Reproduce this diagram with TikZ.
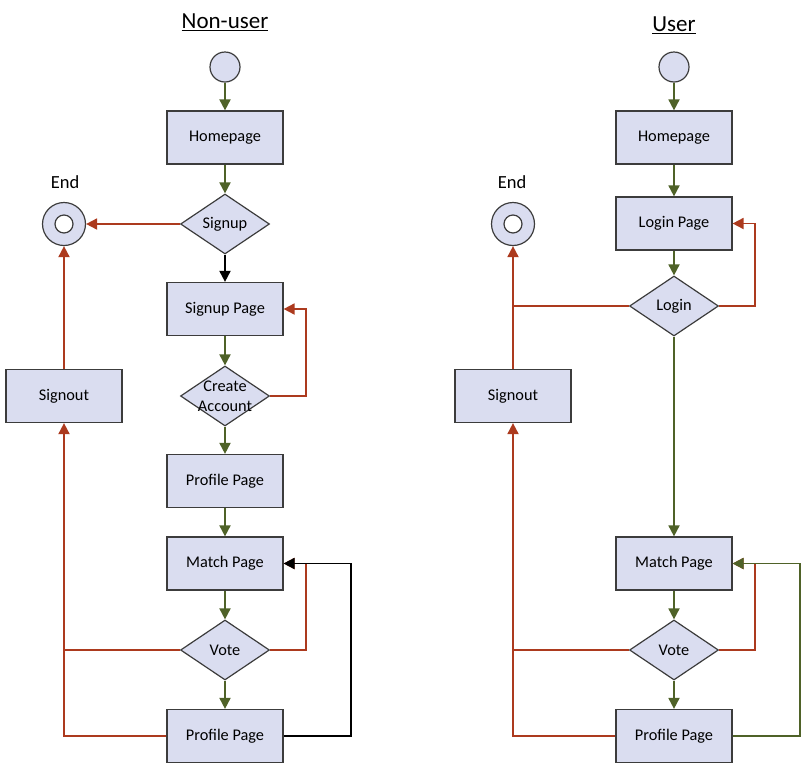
\documentclass[tikz,border=0pt]{standalone}
\usepackage{fontspec}
\setmainfont{Carlito}
\usetikzlibrary{shapes.geometric,arrows.meta}
\definecolor{boxfill}{RGB}{218,221,240}
\definecolor{boxline}{RGB}{60,60,60}
\definecolor{gr}{RGB}{79,98,40}
\definecolor{rd}{RGB}{172,58,30}
\tikzset{
  stepbox/.style={draw=boxline,fill=boxfill,line width=1.2pt,minimum width=116pt,minimum height=53pt,inner sep=0pt,font=\fontsize{16.3}{19}\selectfont},
  decide/.style={draw=boxline,fill=boxfill,line width=1.2pt,diamond,minimum width=89pt,minimum height=60pt,inner sep=0pt,font=\fontsize{16.3}{19}\selectfont,align=center},
  startc/.style={circle,draw=boxline,fill=boxfill,line width=1.2pt,minimum size=30pt,inner sep=0pt},
  endc/.style={circle,draw=boxline,fill=boxfill,line width=1.2pt,minimum size=43pt,inner sep=0pt},
  innerc/.style={circle,draw=boxline,fill=white,line width=1.2pt,minimum size=18pt,inner sep=0pt},
  lbl/.style={font=\fontsize{16.3}{19}\selectfont,inner sep=0pt},
  endlbl/.style={font=\fontsize{18.5}{21}\selectfont,inner sep=0pt},
  ttl/.style={font=\fontsize{23}{26}\selectfont,inner sep=0pt},
  ga/.style={draw=gr,line width=1.8pt,-{Triangle[length=11pt,width=11pt]}},
  ra/.style={draw=rd,line width=1.8pt,-{Triangle[length=11pt,width=11pt]}},
  ba/.style={draw=black,line width=1.8pt,-{Triangle[length=11pt,width=11pt]}},
  rl/.style={draw=rd,line width=1.8pt},
}
\begin{document}
\begin{tikzpicture}[x=1pt,y=-1pt]
\useasboundingbox (0,0) rectangle (801,772);
% ---------- Non-user ----------
\node[ttl] (t1) at (225,22) {\underline{Non-user}};
\node[startc] (s1) at (225,67) {};
\node[stepbox] (h1) at (225,137.5) {Homepage};
\node[decide] (su) at (225,224) {Signup};
\node[endc] (e1) at (64,224) {};
\node[innerc] (e1i) at (64,224) {};
\node[endlbl] (e1t) at (65,182) {End};
\node[stepbox] (sp) at (225,309) {Signup Page};
\node[decide,label={[lbl,align=center]center:Create\\[1pt]Account}] (ca) at (225,396) {};
\node[stepbox] (pp1) at (225,481) {Profile Page};
\node[stepbox] (mp1) at (225,563.5) {Match Page};
\node[decide] (v1) at (225,650) {Vote};
\node[stepbox] (pq1) at (225,736) {Profile Page};
\node[stepbox] (so1) at (64,396) {Signout};

\draw[ga] (s1) -- (h1);
\draw[ga] (h1) -- (su);
\draw[ra] (su) -- (e1);
\draw[ba] (su) -- (sp);
\draw[ga] (sp) -- (ca);
\draw[ga] (ca) -- (pp1);
\draw[ga] (pp1) -- (mp1);
\draw[ga] (mp1) -- (v1);
\draw[ga] (v1) -- (pq1);
\draw[ra] (ca.east) -- ++(36,0) |- (sp.east);
\draw[ra] (v1.east) -- ++(36,0) |- (mp1.east);
\draw[ba] (pq1.east) -- ++(67,0) |- (mp1.east);
\draw[rl] (v1.west) -- (v1.west -| so1);
\draw[ra] (pq1.west) -| (so1.south);
\draw[ra] (so1) -- (e1);

% ---------- User ----------
\node[ttl] (t2) at (674,25) {\underline{User}};
\node[startc] (s2) at (674,67) {};
\node[stepbox] (h2) at (674,137.5) {Homepage};
\node[stepbox] (lp) at (674,223.5) {Login Page};
\node[decide] (lg) at (674,306) {Login};
\node[endc] (e2) at (513,224) {};
\node[innerc] (e2i) at (513,224) {};
\node[endlbl] (e2t) at (512,182) {End};
\node[stepbox] (mp2) at (674,563.5) {Match Page};
\node[decide] (v2) at (674,650) {Vote};
\node[stepbox] (pq2) at (674,736) {Profile Page};
\node[stepbox] (so2) at (513,396) {Signout};

\draw[ga] (s2) -- (h2);
\draw[ga] (h2) -- (lp);
\draw[ga] (lp) -- (lg);
\draw[ra] (lg.east) -- ++(36,0) |- (lp.east);
\draw[rl,line width=2.4pt] (lg.west) -- (lg.west -| so2);
\draw[ra] (so2) -- (e2);
\draw[ga] (lg) -- (mp2);
\draw[ga] (mp2) -- (v2);
\draw[ga] (v2) -- (pq2);
\draw[ra] (v2.east) -- ++(36,0) |- (mp2.east);
\draw[ga] (pq2.east) -- ++(67,0) |- (mp2.east);
\draw[rl] (v2.west) -- (v2.west -| so2);
\draw[ra] (pq2.west) -| (so2.south);
\end{tikzpicture}
\end{document}
